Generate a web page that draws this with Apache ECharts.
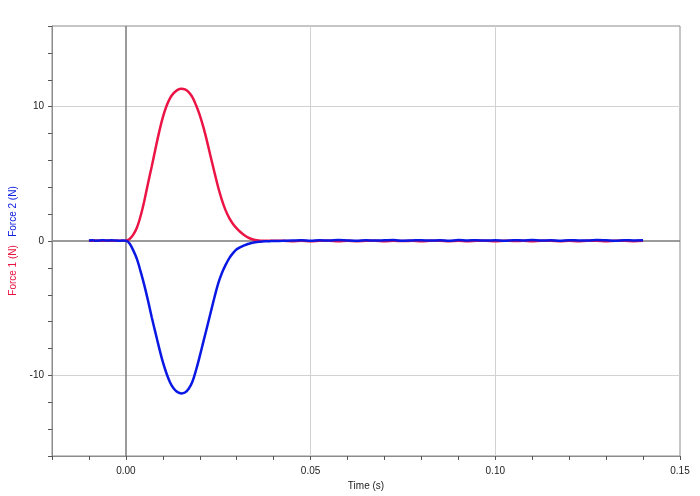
<!DOCTYPE html>
<html>
<head>
<meta charset="utf-8">
<script src="https://cdn.jsdelivr.net/npm/echarts@6/dist/echarts.min.js"></script>
<style>html,body{margin:0;padding:0;background:#fff}#c{width:700px;height:496px}</style>
</head>
<body>
<div id="c"></div>
<script>
const timeS = [
  -0.010,-0.009,-0.008,-0.007,-0.006,-0.005,-0.004,-0.003,-0.002,-0.001,
  0.000,0.001,0.002,0.003,0.004,0.005,0.006,0.007,0.008,0.009,
  0.010,0.011,0.012,0.013,0.014,0.015,0.016,0.017,0.018,0.019,
  0.020,0.021,0.022,0.023,0.024,0.025,0.026,0.027,0.028,0.029,
  0.030,0.031,0.032,0.033,0.034,0.035,0.036,0.037,0.038,0.039,0.040,
  0.0425,0.045,0.0475,0.050,0.0525,0.055,0.0575,0.060,0.0625,0.065,
  0.0675,0.070,0.0725,0.075,0.0775,0.080,0.0825,0.085,0.0875,0.090,
  0.0925,0.095,0.0975,0.100,0.1025,0.105,0.1075,0.110,0.1125,0.115,
  0.1175,0.120,0.1225,0.125,0.1275,0.130,0.1325,0.135,0.1375,0.140
];
const force1 = [
  0.02,0.01,0.03,0.01,0.02,0.03,0.01,0.02,0.01,0.02,
  0.02,0.15,0.47,1.0,1.88,3.0,4.3,5.55,6.85,8.1,
  9.2,10.05,10.65,11.02,11.25,11.33,11.28,11.08,10.7,10.1,
  9.37,8.45,7.38,6.22,5.08,3.98,3.05,2.28,1.7,1.27,
  0.94,0.67,0.44,0.27,0.15,0.08,0.04,0.02,0.01,0.01,0.01,
  0.01,-0.01,0.02,-0.02,0.01,0.02,-0.02,0.01,-0.01,0.01,
  0.02,-0.02,0.01,0.0,0.01,-0.02,0.01,0.02,-0.01,0.01,
  -0.02,0.01,0.01,-0.02,0.02,0.0,0.01,-0.02,0.01,0.01,
  -0.01,0.02,-0.02,0.01,0.01,-0.02,0.01,0.01,-0.01,0.01
];
const force2 = [
  0.03,0.05,0.02,0.04,0.06,0.03,0.05,0.04,0.02,0.03,
  0.02,-0.18,-0.7,-1.35,-2.28,-3.3,-4.45,-5.68,-6.82,-7.95,
  -9.0,-9.86,-10.55,-11.0,-11.25,-11.34,-11.27,-11.0,-10.48,-9.6,
  -8.57,-7.47,-6.38,-5.27,-4.17,-3.15,-2.38,-1.78,-1.27,-0.9,
  -0.62,-0.45,-0.33,-0.22,-0.15,-0.09,-0.05,-0.03,-0.02,-0.01,0.0,
  0.01,0.03,0.05,0.02,0.06,0.03,0.07,0.04,0.02,0.06,
  0.03,0.05,0.07,0.02,0.04,0.06,0.03,0.05,0.02,0.07,
  0.04,0.06,0.03,0.05,0.02,0.06,0.04,0.07,0.03,0.05,
  0.02,0.06,0.04,0.03,0.07,0.05,0.02,0.06,0.04,0.05
];
const xGridLines = [0.05, 0.10];
const yGridLines = [10, -10];
const xZero = 0, yZero = 0;

const chart = echarts.init(document.getElementById('c'), null, {renderer:'canvas'});
const s1 = timeS.map((t,i)=>[t, force1[i]]);
const s2 = timeS.map((t,i)=>[t, force2[i]]);
const light = {color:'#d2d2d2', width:1, type:'solid'};
const dark = {color:'#7a7a7a', width:1.5, type:'solid'};
const font = 'Liberation Sans';
chart.setOption({
  animation:false,
  backgroundColor:'#fff',
  grid:{left:52, right:20, top:26, bottom:36, show:true, borderColor:'#8c8c8c', borderWidth:1},
  xAxis:{
    type:'value', min:-0.02, max:0.15, interval:0.01,
    name:'Time (s)', nameLocation:'middle', nameGap:25,
    nameTextStyle:{fontFamily:font, fontSize:10, color:'#222'},
    axisLine:{onZero:false, lineStyle:{color:'#8c8c8c'}},
    axisTick:{show:true, length:4, lineStyle:{color:'#555'}},
    axisLabel:{fontFamily:font, fontSize:10, color:'#222', margin:10,
      formatter:function(v){const r=Math.round(v*100); return (r%5===0)?(Math.abs(r)/100*(r<0?-1:1)).toFixed(2):'';}},
    splitLine:{show:false}
  },
  yAxis:{
    type:'value', min:-16, max:16, interval:2,
    name:'{a|Force 1 (N)}   {b|Force 2 (N)}', nameLocation:'middle', nameGap:32, nameRotate:90,
    nameTextStyle:{fontFamily:font, fontSize:10, rich:{a:{color:'#e8123f', fontFamily:font, fontSize:10}, b:{color:'#1020e0', fontFamily:font, fontSize:10}}},
    axisLine:{onZero:false, lineStyle:{color:'#8c8c8c'}},
    axisTick:{show:true, length:4, lineStyle:{color:'#555'}},
    axisLabel:{fontFamily:font, fontSize:10, color:'#222', margin:8,
      formatter:function(v){return (Math.round(v)%10===0)?String(Math.round(v)):'';}},
    splitLine:{show:false}
  },
  series:[
    {type:'line', data:[], z:0, zlevel:0, silent:true,
      markLine:{silent:true, symbol:'none', label:{show:false}, animation:false, z:0,
        data:[
          ...xGridLines.map(v=>({xAxis:v, lineStyle:light})),
          ...yGridLines.map(v=>({yAxis:v, lineStyle:light})),
          {xAxis:xZero, lineStyle:dark},
          {yAxis:yZero, lineStyle:dark}
        ]}},
    {type:'line', name:'Force 1', data:s1, showSymbol:false, smooth:0.35, z:10,
      lineStyle:{color:'#ec1445', width:2.5}, itemStyle:{color:'#ec1445'}},
    {type:'line', name:'Force 2', data:s2, showSymbol:false, smooth:0.35, z:11,
      lineStyle:{color:'#0a18e4', width:2.5}, itemStyle:{color:'#0a18e4'}}
  ]
});
</script>
</body>
</html>
